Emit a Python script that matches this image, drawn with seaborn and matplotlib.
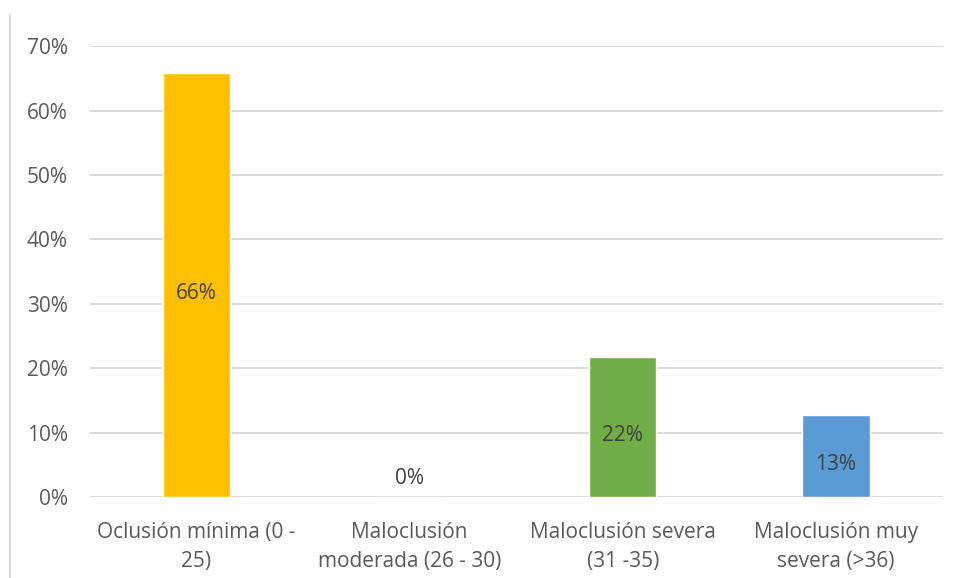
import matplotlib
matplotlib.use("Agg")
import matplotlib.pyplot as plt
import seaborn as sns
import pandas as pd
from matplotlib.lines import Line2D
from matplotlib.ticker import PercentFormatter

# Data
categories = [
    "Oclusión mínima (0 -\n25)",
    "Maloclusión\nmoderada (26 - 30)",
    "Maloclusión severa\n(31 -35)",
    "Maloclusión muy\nsevera (>36)",
]
values = [65.8, 0.0, 21.7, 12.7]
labels = ["66%", "0%", "22%", "13%"]
colors = ["#FFC000", "#A5A5A5", "#70AD47", "#5B9BD5"]

df = pd.DataFrame({"category": categories, "value": values})

sns.set_theme(style="white")
plt.rcParams["font.family"] = ["Open Sans", "DejaVu Sans"]

fig = plt.figure(figsize=(9.57, 5.78), dpi=100)
ax = fig.add_axes([0.094, 0.140, 0.891, 0.780])

sns.barplot(
    data=df,
    x="category",
    y="value",
    hue="category",
    palette=colors,
    saturation=1,
    width=0.315,
    legend=False,
    ax=ax,
    zorder=3,
)

ax.set_ylim(0, 70)
ax.set_xlim(-0.5, 3.5)
ax.yaxis.set_major_formatter(PercentFormatter(decimals=0))
ax.set_yticks(range(0, 71, 10))
ax.grid(axis="y", color="#d9d9d9", linewidth=1.4, zorder=0)
ax.set_axisbelow(True)
for s in ax.spines.values():
    s.set_visible(False)

ax.tick_params(axis="y", length=0, pad=16, labelsize=15, labelcolor="#595959")
ax.tick_params(axis="x", length=0, pad=18, labelsize=15, labelcolor="#595959")
for t in ax.get_xticklabels():
    t.set_linespacing(1.5)
ax.set_xlabel("")
ax.set_ylabel("")

# data labels in the middle of each bar
for i, (v, lab) in enumerate(zip(values, labels)):
    dy = -4 if v > 0 else 15
    ax.annotate(lab, (i, v / 2), xytext=(0, dy), textcoords="offset points",
                ha="center", va="center_baseline", fontsize=15,
                color="#404040", zorder=4)

# left border line of the chart area
fig.add_artist(Line2D([10 / 957, 10 / 957], [0, 1 - 15 / 578],
                      transform=fig.transFigure, color="#d9d9d9", linewidth=1.5))

fig.savefig("out.png", dpi=100)
